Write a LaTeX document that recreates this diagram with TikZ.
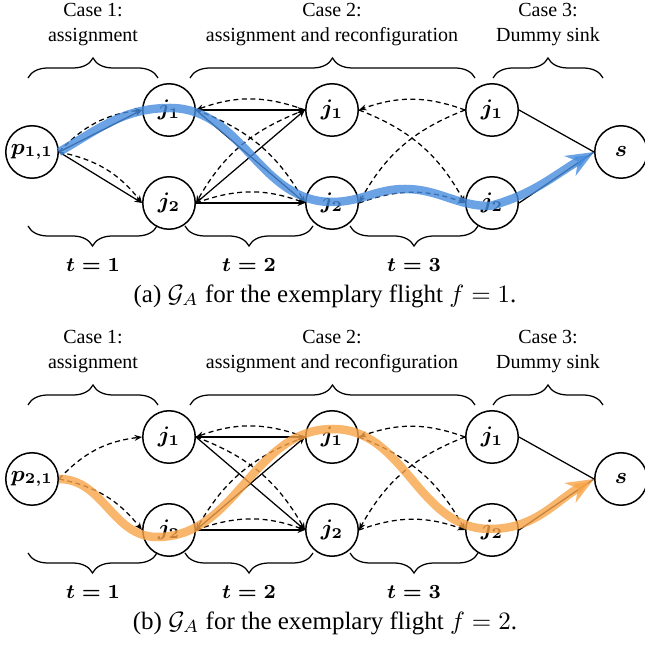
\documentclass[tikz,border=0pt]{standalone}
\usepackage{fontspec}
\setmainfont{Liberation Serif}
\usetikzlibrary{arrows.meta,decorations.pathreplacing}

\definecolor{pathblue}{RGB}{70,140,222}
\definecolor{pathorange}{RGB}{248,164,72}

\begin{document}
\begin{tikzpicture}
  [x=0.4pt,y=0.4pt,
   every node/.style={circle,draw=black,line width=0.6pt,minimum size=21pt,inner sep=0pt,
     font=\fontsize{9}{11}\selectfont\boldmath},
   txt/.style={rectangle,draw=none,minimum size=0pt,inner sep=1pt,align=center,
     font=\fontsize{8}{10}\selectfont},
   tlabel/.style={txt,font=\fontsize{8.5}{10}\selectfont\boldmath},
   capt/.style={txt,font=\fontsize{10}{12}\selectfont},
   solidedge/.style={line width=0.5pt,-{Stealth[length=3pt,width=2.4pt]}},
   dashedge/.style={solidedge,dash pattern=on 2pt off 1.4pt},
   brc/.style={decorate,decoration={brace,amplitude=8pt},line width=0.5pt},
   hlblue/.style={draw=pathblue,opacity=0.8,line width=3.4pt,-{Stealth[length=11pt,width=9pt]}},
   hlorange/.style={draw=pathorange,opacity=0.8,line width=3.4pt,-{Stealth[length=11pt,width=9pt]}}]

  \useasboundingbox (0,0) rectangle (645,645);

  % (a) flight f=1
  \node[txt] (casea1) at (93,620) {Case 1:\\assignment};
  \node[txt] (casea2) at (332,620) {Case 2:\\assignment and reconfiguration};
  \node[txt] (casea3) at (548,620) {Case 3:\\Dummy sink};
  \draw[brc] (28,567) -- (158,567);
  \draw[brc] (190,567) -- (475,567);
  \draw[brc] (493,567) -- (603,567);

  \node (pa) at (32,493) {$p_{1,1}$};
  \node (ja11) at (169,535) {$j_1$};
  \node (ja12) at (169,442) {$j_2$};
  \node (ja21) at (332,535) {$j_1$};
  \node (ja22) at (332,442) {$j_2$};
  \node (ja31) at (492,535) {$j_1$};
  \node (ja32) at (492,442) {$j_2$};
  \node (sa) at (621,493) {$s$};

  \foreach \from/\to in {pa/ja11, pa/ja12, ja11/ja21, ja11/ja22, ja12/ja21, ja12/ja22}
    \draw[solidedge] (\from.east) -- (\to.west);
  \foreach \from/\to in {ja31/sa, ja32/sa}
    \draw[line width=0.5pt] (\from.east) -- (\to.west);
  \foreach \from/\to in {pa/ja11, pa/ja12, ja11/ja22, ja12/ja22, ja21/ja32, ja22/ja32}
    \draw[dashedge] (\from.east) to[bend left=20] (\to.west);
  \foreach \from/\to in {ja21/ja11, ja21/ja12, ja31/ja21, ja31/ja22}
    \draw[dashedge] (\from.west) to[bend right=20] (\to.east);

  \draw[hlblue] (pa.east) to[out=30,in=180] (170,537) to[out=0,in=180] (332,443)
    to[out=0,in=180] (405,456) to[out=0,in=180] (490,439) to[out=15,in=210] (sa.west);

  \draw[brc] (157,419) -- (28,419);
  \draw[brc] (313,419) -- (185,419);
  \draw[brc] (478,419) -- (350,419);
  \node[tlabel] (ta1) at (93,380) {$t=1$};
  \node[tlabel] (ta2) at (249,380) {$t=2$};
  \node[tlabel] (ta3) at (414,380) {$t=3$};
  \node[capt] (capa) at (325,349) {(a) $\mathcal{G}_A$ for the exemplary flight $f=1$.};

  % (b) flight f=2
  \node[txt] (caseb1) at (93,293) {Case 1:\\assignment};
  \node[txt] (caseb2) at (332,293) {Case 2:\\assignment and reconfiguration};
  \node[txt] (caseb3) at (548,293) {Case 3:\\Dummy sink};
  \draw[brc] (28,240) -- (158,240);
  \draw[brc] (190,240) -- (475,240);
  \draw[brc] (493,240) -- (603,240);

  \node (pb) at (32,166) {$p_{2,1}$};
  \node (jb11) at (169,208) {$j_1$};
  \node (jb12) at (169,115) {$j_2$};
  \node (jb21) at (332,208) {$j_1$};
  \node (jb22) at (332,115) {$j_2$};
  \node (jb31) at (492,208) {$j_1$};
  \node (jb32) at (492,115) {$j_2$};
  \node (sb) at (621,166) {$s$};

  \foreach \from/\to in {jb11/jb21, jb11/jb22, jb12/jb21, jb12/jb22}
    \draw[solidedge] (\from.east) -- (\to.west);
  \foreach \from/\to in {jb31/sb, jb32/sb}
    \draw[line width=0.5pt] (\from.east) -- (\to.west);
  \foreach \from/\to in {pb/jb11, pb/jb12, jb11/jb22, jb12/jb22, jb21/jb32, jb22/jb32}
    \draw[dashedge] (\from.east) to[bend left=20] (\to.west);
  \foreach \from/\to in {jb21/jb11, jb21/jb12, jb31/jb21, jb31/jb22}
    \draw[dashedge] (\from.west) to[bend right=20] (\to.east);

  \draw[hlorange] (pb.east) to[out=0,in=180] (157,108) to[out=0,in=180] (333,216)
    to[out=0,in=180] (490,116) to[out=0,in=210] (sb.west);

  \draw[brc] (157,92) -- (28,92);
  \draw[brc] (313,92) -- (185,92);
  \draw[brc] (478,92) -- (350,92);
  \node[tlabel] (tb1) at (93,53) {$t=1$};
  \node[tlabel] (tb2) at (249,53) {$t=2$};
  \node[tlabel] (tb3) at (414,53) {$t=3$};
  \node[capt] (capb) at (325,22) {(b) $\mathcal{G}_A$ for the exemplary flight $f=2$.};

\end{tikzpicture}
\end{document}
